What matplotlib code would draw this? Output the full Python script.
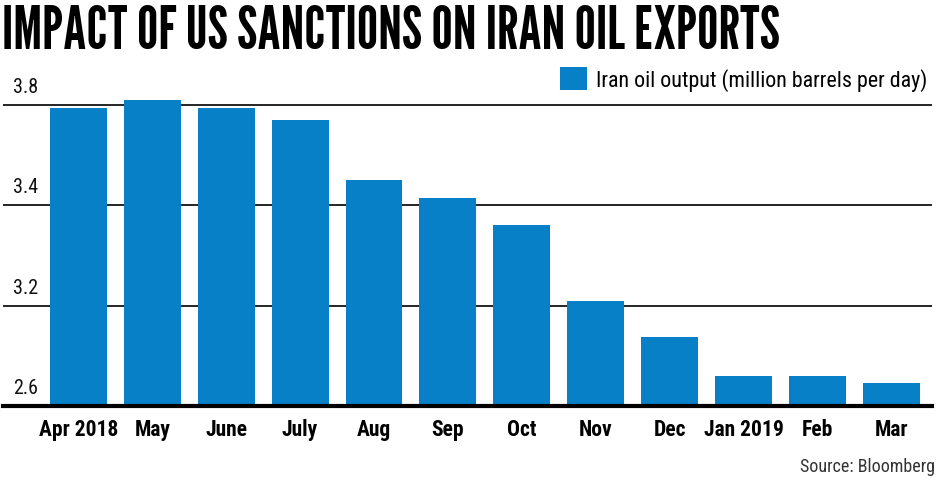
import numpy as np
import matplotlib
matplotlib.use("Agg")
import matplotlib.pyplot as plt
from matplotlib.patches import Patch

# data
months = ["Apr 2018", "May", "June", "July", "Aug", "Sep",
          "Oct", "Nov", "Dec", "Jan 2019", "Feb", "Mar"]
output = [3.79, 3.82, 3.79, 3.74, 3.50, 3.43,
          3.36, 3.21, 3.01, 2.78, 2.78, 2.74]
tick_values = [2.6, 3.2, 3.4, 3.8]
tick_labels = ["2.6", "3.2", "3.4", "3.8"]

BLUE = "#0880c8"
COND = ["Roboto Condensed", "DejaVu Sans"]
HEAD = ["League Gothic", "Bebas Neue", "Oswald", "Roboto Condensed", "DejaVu Sans"]


def forward(v):
    # the source chart spaces its gridlines evenly, whatever the value step
    v = np.asarray(v, dtype=float)
    return np.where(v >= 3.4, 2 + (v - 3.4) / 0.4,
                    np.where(v >= 3.2, 1 + (v - 3.2) / 0.2, (v - 2.6) / 0.6))


def inverse(u):
    u = np.asarray(u, dtype=float)
    return np.where(u >= 2, 3.4 + (u - 2) * 0.4,
                    np.where(u >= 1, 3.2 + (u - 1) * 0.2, 2.6 + u * 0.6))


W, H = 941, 485
fig = plt.figure(figsize=(W / 100, H / 100), dpi=100)
ax = fig.add_axes([3 / W, (H - 407) / H, 929 / W, 337 / H])
ax.set_yscale("function", functions=(forward, inverse))

x = np.arange(len(months))
ax.bar(x, np.array(output) - 2.6, bottom=2.6, width=0.77, color=BLUE, zorder=3)

ax.set_xlim(-1.02, 11.55)
ax.set_ylim(2.6, 3.944)

ax.set_yticks(tick_values)
ax.set_yticklabels([])
ax.tick_params(axis="y", length=0)
ax.grid(axis="y", color="black", linewidth=1.2, zorder=1)
for v, lab in zip(tick_values, tick_labels):
    ax.annotate(lab, xy=(0, v), xycoords=ax.get_yaxis_transform(),
                xytext=(7, 6.5), textcoords="offset points",
                ha="left", va="bottom", fontsize=14.5, family=COND, color="#111111")

ax.set_xticks(x)
ax.set_xticklabels(months, fontsize=15.5, fontweight="bold", family=COND)
ax.tick_params(axis="x", length=0, pad=9)

for s in ["top", "right", "left"]:
    ax.spines[s].set_visible(False)
ax.spines["bottom"].set_linewidth(3)
ax.spines["bottom"].set_zorder(4)

handle = Patch(facecolor=BLUE, edgecolor="none")
fig.legend([handle], ["Iran oil output (million barrels per day)"],
           loc="upper right", bbox_to_anchor=(927 / W, 1 - 68 / H),
           frameon=False, borderpad=0, borderaxespad=0,
           handlelength=1.25, handleheight=1.25, handletextpad=0.4,
           prop={"family": COND, "size": 15.8})

fig.text(2 / W, 1 - 5 / H, "IMPACT OF US SANCTIONS ON IRAN OIL EXPORTS",
         ha="left", va="top", fontsize=43, family=HEAD)
fig.text(935 / W, 1 - 467 / H, "Source: Bloomberg", ha="right", va="center",
         fontsize=13, family=COND, color="#333333")

fig.savefig("out.png", dpi=100)
